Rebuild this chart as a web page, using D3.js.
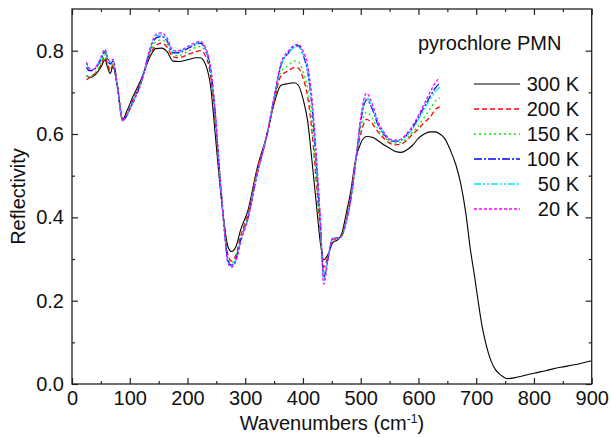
<!DOCTYPE html>
<html>
<head>
<meta charset="utf-8">
<script src="https://cdn.jsdelivr.net/npm/d3@7"></script>
<style>
    body { margin: 0; background: #fff; }
    svg { display: block; font-family: "Liberation Sans", Arial, Helvetica, sans-serif; }
</style>
</head>
<body>
<div id="chart"></div>
<script>
/** Données */
var wavenumbers = [25, 30, 35, 42, 50, 57, 62, 66, 71, 78, 88, 95, 105, 120, 135, 145, 155, 165, 175, 185,
    200, 215, 222, 232, 240, 248, 256, 264, 270, 276, 284, 292, 305, 320, 338, 350, 362, 375, 385, 392,
    400, 408, 416, 424, 430, 436, 443, 452, 460, 467, 475, 483, 491, 500, 510, 520, 530, 540, 550, 560,
    570, 580, 590, 600, 610, 620, 630, 637];

var r300 = [0.740, 0.736, 0.737, 0.745, 0.760, 0.778, 0.758, 0.745, 0.762, 0.718, 0.635, 0.655, 0.688, 0.732, 0.785,
    0.805, 0.806, 0.797, 0.775, 0.774, 0.778, 0.783, 0.783, 0.764, 0.715, 0.600, 0.480, 0.380, 0.330, 0.318,
    0.330, 0.370, 0.418, 0.514, 0.601, 0.673, 0.717, 0.721, 0.723, 0.717, 0.685, 0.632, 0.530, 0.420, 0.340,
    0.298, 0.310, 0.340, 0.346, 0.360, 0.410, 0.465, 0.538, 0.578, 0.594, 0.592, 0.584, 0.574, 0.566, 0.558,
    0.556, 0.562, 0.573, 0.590, 0.600, 0.605, 0.605, 0.600];
// le spectre à 300 K continue jusqu'à 900 cm-1
var wavenumbersTail = [645, 655, 665, 673, 682, 690, 697, 703, 710, 717, 725, 733, 742, 755, 770, 785, 800, 820, 846, 870, 900];
var r300Tail = [0.590, 0.562, 0.525, 0.482, 0.410, 0.322, 0.260, 0.202, 0.140, 0.095, 0.058, 0.035, 0.022, 0.013, 0.016,
    0.021, 0.026, 0.032, 0.040, 0.046, 0.056];

var r200 = [0.730, 0.735, 0.740, 0.748, 0.765, 0.786, 0.765, 0.752, 0.766, 0.720, 0.633, 0.648, 0.680, 0.728, 0.790,
    0.812, 0.818, 0.808, 0.785, 0.783, 0.790, 0.798, 0.800, 0.785, 0.740, 0.630, 0.500, 0.380, 0.310, 0.295,
    0.310, 0.355, 0.410, 0.510, 0.600, 0.678, 0.740, 0.752, 0.760, 0.758, 0.735, 0.690, 0.600, 0.470, 0.370,
    0.280, 0.305, 0.345, 0.350, 0.355, 0.400, 0.455, 0.535, 0.600, 0.635, 0.625, 0.605, 0.590, 0.578, 0.574,
    0.576, 0.585, 0.600, 0.612, 0.628, 0.640, 0.660, 0.665];

var r150 = [0.740, 0.738, 0.740, 0.750, 0.770, 0.792, 0.770, 0.758, 0.770, 0.720, 0.632, 0.645, 0.678, 0.726, 0.795,
    0.820, 0.826, 0.815, 0.790, 0.788, 0.798, 0.808, 0.810, 0.795, 0.750, 0.640, 0.500, 0.370, 0.300, 0.290,
    0.305, 0.350, 0.405, 0.505, 0.600, 0.680, 0.750, 0.765, 0.775, 0.773, 0.750, 0.710, 0.620, 0.480, 0.370,
    0.265, 0.300, 0.350, 0.350, 0.355, 0.395, 0.450, 0.530, 0.615, 0.652, 0.638, 0.612, 0.595, 0.582, 0.578,
    0.580, 0.590, 0.605, 0.620, 0.640, 0.660, 0.680, 0.687];

var r100 = [0.760, 0.752, 0.752, 0.760, 0.778, 0.798, 0.778, 0.768, 0.775, 0.722, 0.632, 0.645, 0.675, 0.725, 0.800,
    0.830, 0.834, 0.823, 0.795, 0.795, 0.805, 0.815, 0.818, 0.800, 0.755, 0.650, 0.500, 0.370, 0.298, 0.285,
    0.300, 0.345, 0.400, 0.500, 0.600, 0.685, 0.765, 0.795, 0.810, 0.812, 0.790, 0.750, 0.660, 0.510, 0.390,
    0.255, 0.300, 0.350, 0.350, 0.355, 0.390, 0.445, 0.530, 0.630, 0.682, 0.660, 0.622, 0.600, 0.585, 0.582,
    0.585, 0.598, 0.615, 0.640, 0.665, 0.690, 0.712, 0.722];

var r50 = [0.770, 0.756, 0.755, 0.762, 0.782, 0.802, 0.780, 0.772, 0.778, 0.722, 0.632, 0.645, 0.675, 0.724, 0.802,
    0.835, 0.838, 0.826, 0.797, 0.797, 0.808, 0.817, 0.820, 0.802, 0.757, 0.650, 0.500, 0.370, 0.295, 0.283,
    0.298, 0.342, 0.400, 0.500, 0.600, 0.685, 0.765, 0.795, 0.808, 0.810, 0.792, 0.752, 0.665, 0.515, 0.390,
    0.250, 0.300, 0.350, 0.350, 0.355, 0.390, 0.445, 0.530, 0.635, 0.688, 0.665, 0.625, 0.602, 0.587, 0.583,
    0.585, 0.597, 0.612, 0.635, 0.660, 0.683, 0.703, 0.712];

var r20 = [0.772, 0.758, 0.754, 0.762, 0.784, 0.803, 0.782, 0.774, 0.779, 0.722, 0.632, 0.644, 0.674, 0.723, 0.805,
    0.838, 0.843, 0.830, 0.800, 0.800, 0.810, 0.820, 0.822, 0.805, 0.760, 0.655, 0.500, 0.365, 0.290, 0.280,
    0.295, 0.340, 0.398, 0.500, 0.600, 0.690, 0.770, 0.800, 0.813, 0.815, 0.800, 0.765, 0.680, 0.530, 0.400,
    0.240, 0.295, 0.350, 0.350, 0.355, 0.390, 0.445, 0.530, 0.640, 0.698, 0.672, 0.630, 0.605, 0.588, 0.585,
    0.588, 0.602, 0.620, 0.645, 0.672, 0.700, 0.725, 0.735];

var seriesLabels = ["300 K", "200 K", "150 K", "100 K", "50 K", "20 K"];
var seriesColors = ["#000000", "#ff0000", "#00ee00", "#0000ff", "#00e5ee", "#ff00ff"];
var seriesDashes = [null, "5,3", "2,3", "8,2,2,2", "7,2,2,2,2,2", "3,2"];

var xTicks = [0, 100, 200, 300, 400, 500, 600, 700, 800, 900];
var yTicks = [0.0, 0.2, 0.4, 0.6, 0.8];

/** Initialisation du SVG */
var width = 611,
    height = 437;
var margin = { top: 9, right: 19.3, bottom: 53, left: 72 };

var svg = d3
    .select("#chart")
    .append("svg")
    .attr("width", width)
    .attr("height", height);

var x = d3.scaleLinear().domain([0, 900]).range([margin.left, width - margin.right]);
var y = d3.scaleLinear().domain([0, 0.9]).range([height - margin.bottom, margin.top]);

var series = [
    { x: wavenumbers.concat(wavenumbersTail), y: r300.concat(r300Tail) },
    { x: wavenumbers, y: r200 },
    { x: wavenumbers, y: r150 },
    { x: wavenumbers, y: r100 },
    { x: wavenumbers, y: r50 },
    { x: wavenumbers, y: r20 }
];

var line = d3.line()
    .x(function (d) { return x(d[0]); })
    .y(function (d) { return y(d[1]); })
    .curve(d3.curveMonotoneX);

/** Courbes */
series.forEach(function (s, i) {
    var pts = s.x.map(function (v, j) { return [v, s.y[j]]; });
    svg.append("path")
        .datum(pts)
        .attr("fill", "none")
        .attr("stroke", seriesColors[i])
        .attr("stroke-width", i === 0 ? 1.1 : 1.3)
        .attr("stroke-dasharray", seriesDashes[i])
        .attr("d", line);
});

/** Axes : graduations vers l'intérieur sur les quatre côtés */
function styleAxis(g) {
    g.select(".domain").remove();
    g.selectAll("line").attr("stroke", "#222").attr("stroke-width", 1.2);
    g.selectAll("text").attr("font-size", 20).attr("fill", "#111").attr("font-family", null);
}

var minorX = d3.range(50, 900, 100);
var minorY = [0.1, 0.3, 0.5, 0.7];

svg.append("g").attr("transform", "translate(0," + y(0) + ")")
    .call(d3.axisBottom(x).tickValues(xTicks).tickSize(-6).tickPadding(7).tickFormat(d3.format("d")))
    .call(styleAxis);
svg.append("g").attr("transform", "translate(0," + y(0) + ")")
    .call(d3.axisBottom(x).tickValues(minorX).tickSize(-3).tickFormat(""))
    .call(styleAxis);
svg.append("g").attr("transform", "translate(0," + y(0.9) + ")")
    .call(d3.axisTop(x).tickValues(xTicks).tickSize(-6).tickFormat(""))
    .call(styleAxis);
svg.append("g").attr("transform", "translate(0," + y(0.9) + ")")
    .call(d3.axisTop(x).tickValues(minorX).tickSize(-3).tickFormat(""))
    .call(styleAxis);

svg.append("g").attr("transform", "translate(" + x(0) + ",0)")
    .call(d3.axisLeft(y).tickValues(yTicks).tickSize(-6).tickPadding(8).tickFormat(d3.format(".1f")))
    .call(styleAxis);
svg.append("g").attr("transform", "translate(" + x(0) + ",0)")
    .call(d3.axisLeft(y).tickValues(minorY).tickSize(-3).tickFormat(""))
    .call(styleAxis);
svg.append("g").attr("transform", "translate(" + x(900) + ",0)")
    .call(d3.axisRight(y).tickValues(yTicks).tickSize(-6).tickFormat(""))
    .call(styleAxis);
svg.append("g").attr("transform", "translate(" + x(900) + ",0)")
    .call(d3.axisRight(y).tickValues(minorY).tickSize(-3).tickFormat(""))
    .call(styleAxis);

// cadre
svg.append("rect")
    .attr("x", x(0))
    .attr("y", y(0.9))
    .attr("width", x(900) - x(0))
    .attr("height", y(0) - y(0.9))
    .attr("fill", "none")
    .attr("stroke", "#222")
    .attr("stroke-width", 1.3);

/** Titres des axes */
var xTitle = svg.append("text")
    .attr("x", (x(0) + x(900)) / 2)
    .attr("y", 430)
    .attr("text-anchor", "middle")
    .attr("font-size", 20)
    .attr("fill", "#111");
xTitle.append("tspan").text("Wavenumbers (cm");
xTitle.append("tspan").attr("font-size", 12).attr("dy", -7).text("-1");
xTitle.append("tspan").attr("dy", 7).text(")");

svg.append("text")
    .attr("transform", "translate(25," + (y(0.45)) + ") rotate(-90)")
    .attr("text-anchor", "middle")
    .attr("font-size", 20)
    .attr("fill", "#111")
    .text("Reflectivity");

/** Légende */
svg.append("text")
    .attr("x", 418)
    .attr("y", 50)
    .attr("font-size", 20)
    .attr("fill", "#111")
    .text("pyrochlore PMN");

var legend = svg.append("g");
seriesLabels.forEach(function (label, i) {
    var ly = 84 + i * 25;
    legend.append("line")
        .attr("x1", 474).attr("x2", 520)
        .attr("y1", ly).attr("y2", ly)
        .attr("stroke", seriesColors[i])
        .attr("stroke-width", i === 0 ? 1.1 : 1.3)
        .attr("stroke-dasharray", seriesDashes[i]);
    legend.append("text")
        .attr("x", 579)
        .attr("y", ly + 7)
        .attr("text-anchor", "end")
        .attr("font-size", 20)
        .attr("fill", "#111")
        .text(label);
});
</script>
</body>
</html>
